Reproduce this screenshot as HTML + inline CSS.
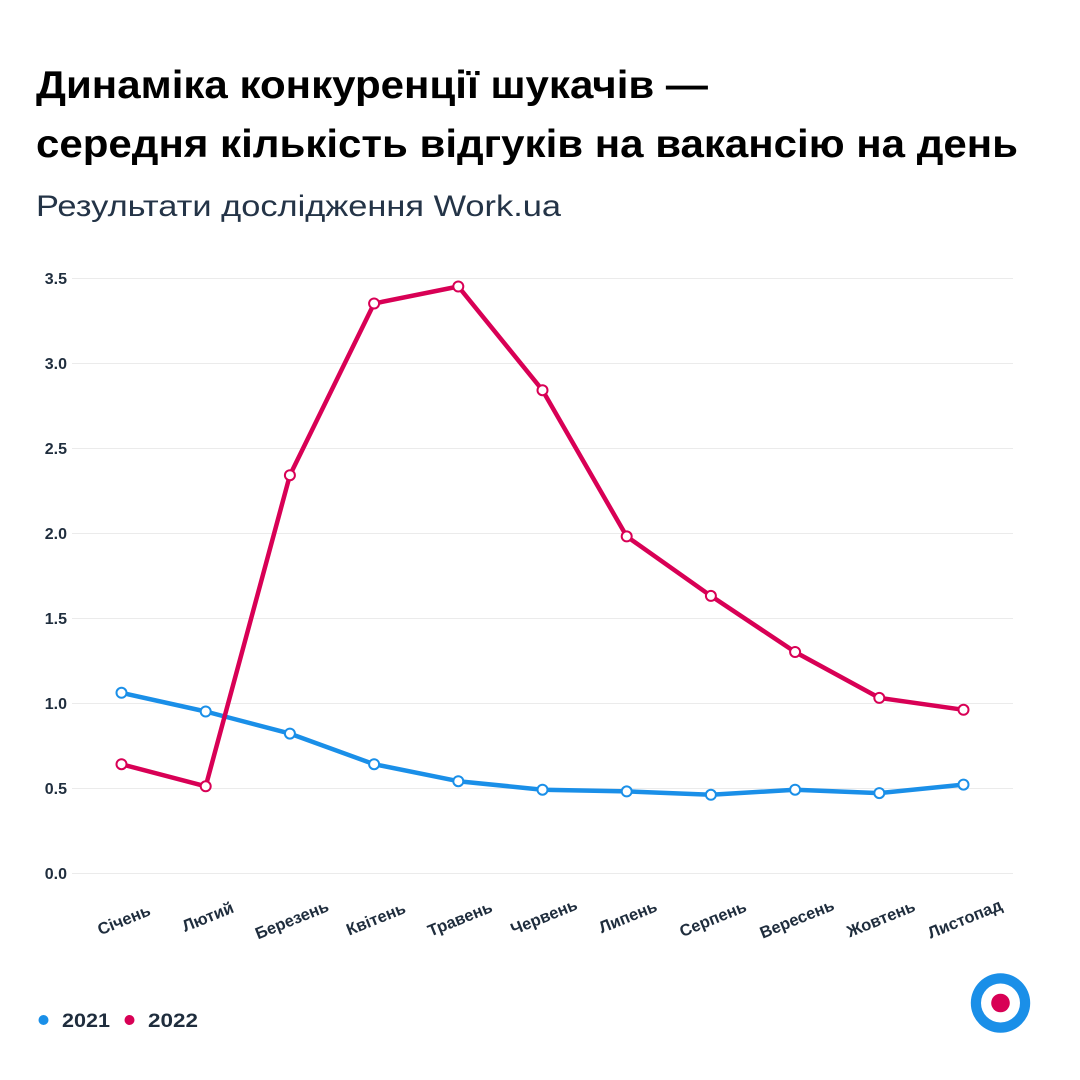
<!DOCTYPE html>
<html>
<head>
<meta charset="utf-8">
<style>
html,body{margin:0;padding:0;background:#fff;}
svg{display:block;}
text{font-family:"Liberation Sans",Arial,sans-serif;}
</style>
</head>
<body>
<svg width="1080" height="1080" viewBox="0 0 1080 1080" xmlns="http://www.w3.org/2000/svg">
<rect width="1080" height="1080" fill="#fff"/>
<text x="36" y="98" font-size="39" font-weight="bold" fill="#000" textLength="672" lengthAdjust="spacingAndGlyphs">Динаміка конкуренції шукачів —</text>
<text x="36" y="157" font-size="39" font-weight="bold" fill="#000" textLength="982" lengthAdjust="spacingAndGlyphs">середня кількість відгуків на вакансію на день</text>
<text x="36" y="216" font-size="30" fill="#243447" textLength="525" lengthAdjust="spacingAndGlyphs">Результати дослідження Work.ua</text>

<g stroke="#ebebeb" stroke-width="1">
<line x1="72" y1="278.5" x2="1013" y2="278.5"/>
<line x1="72" y1="363.5" x2="1013" y2="363.5"/>
<line x1="72" y1="448.5" x2="1013" y2="448.5"/>
<line x1="72" y1="533.5" x2="1013" y2="533.5"/>
<line x1="72" y1="618.5" x2="1013" y2="618.5"/>
<line x1="72" y1="703.5" x2="1013" y2="703.5"/>
<line x1="72" y1="788.5" x2="1013" y2="788.5"/>
<line x1="72" y1="873.5" x2="1013" y2="873.5"/>
</g>

<g font-size="16" font-weight="bold" fill="#1f2d3d" text-anchor="end">
<text x="67" y="284">3.5</text>
<text x="67" y="369">3.0</text>
<text x="67" y="454">2.5</text>
<text x="67" y="539">2.0</text>
<text x="67" y="624">1.5</text>
<text x="67" y="709">1.0</text>
<text x="67" y="794">0.5</text>
<text x="67" y="879">0.0</text>
</g>

<g font-size="16.5" font-weight="bold" fill="#1f2d3d" text-anchor="middle">
<text transform="translate(126,925) rotate(-22)">Січень</text>
<text transform="translate(210,922) rotate(-22)">Лютий</text>
<text transform="translate(294,925) rotate(-22)">Березень</text>
<text transform="translate(378,924) rotate(-22)">Квітень</text>
<text transform="translate(462,924) rotate(-22)">Травень</text>
<text transform="translate(546,922) rotate(-22)">Червень</text>
<text transform="translate(630,922) rotate(-22)">Липень</text>
<text transform="translate(715,924) rotate(-22)">Серпень</text>
<text transform="translate(799,924) rotate(-22)">Вересень</text>
<text transform="translate(883,924) rotate(-22)">Жовтень</text>
<text transform="translate(967,924) rotate(-22)">Листопад</text>
</g>

<polyline fill="none" stroke="#1a8fe8" stroke-width="4.5" stroke-linejoin="round" stroke-linecap="round"
points="121.5,692.8 205.7,711.5 289.9,733.6 374.1,764.2 458.3,781.2 542.5,789.7 626.7,791.4 710.9,794.8 795.1,789.7 879.3,793.1 963.5,784.6"/>
<polyline fill="none" stroke="#d80055" stroke-width="4.5" stroke-linejoin="round" stroke-linecap="round"
points="121.5,764.2 205.7,786.3 289.9,475.2 374.1,303.5 458.3,286.5 542.5,390.2 626.7,536.4 710.9,595.9 795.1,652 879.3,697.9 963.5,709.8"/>

<g fill="#fff" stroke="#1a8fe8" stroke-width="2">
<circle cx="121.5" cy="692.8" r="5"/>
<circle cx="205.7" cy="711.5" r="5"/>
<circle cx="289.9" cy="733.6" r="5"/>
<circle cx="374.1" cy="764.2" r="5"/>
<circle cx="458.3" cy="781.2" r="5"/>
<circle cx="542.5" cy="789.7" r="5"/>
<circle cx="626.7" cy="791.4" r="5"/>
<circle cx="710.9" cy="794.8" r="5"/>
<circle cx="795.1" cy="789.7" r="5"/>
<circle cx="879.3" cy="793.1" r="5"/>
<circle cx="963.5" cy="784.6" r="5"/>
</g>
<g fill="#fff" stroke="#d80055" stroke-width="2">
<circle cx="121.5" cy="764.2" r="5"/>
<circle cx="205.7" cy="786.3" r="5"/>
<circle cx="289.9" cy="475.2" r="5"/>
<circle cx="374.1" cy="303.5" r="5"/>
<circle cx="458.3" cy="286.5" r="5"/>
<circle cx="542.5" cy="390.2" r="5"/>
<circle cx="626.7" cy="536.4" r="5"/>
<circle cx="710.9" cy="595.9" r="5"/>
<circle cx="795.1" cy="652" r="5"/>
<circle cx="879.3" cy="697.9" r="5"/>
<circle cx="963.5" cy="709.8" r="5"/>
</g>

<circle cx="43.5" cy="1020" r="5" fill="#1a8fe8"/>
<text x="62" y="1027" font-size="19" font-weight="bold" fill="#1f2d3d" textLength="48" lengthAdjust="spacingAndGlyphs">2021</text>
<circle cx="129.5" cy="1020" r="5" fill="#d80055"/>
<text x="148" y="1027" font-size="19" font-weight="bold" fill="#1f2d3d" textLength="50" lengthAdjust="spacingAndGlyphs">2022</text>

<circle cx="1000.5" cy="1003" r="29.7" fill="#1a8fe8"/>
<circle cx="1000.5" cy="1003" r="19.5" fill="#fff"/>
<circle cx="1000.5" cy="1003" r="9.3" fill="#d80055"/>
</svg>
</body>
</html>
